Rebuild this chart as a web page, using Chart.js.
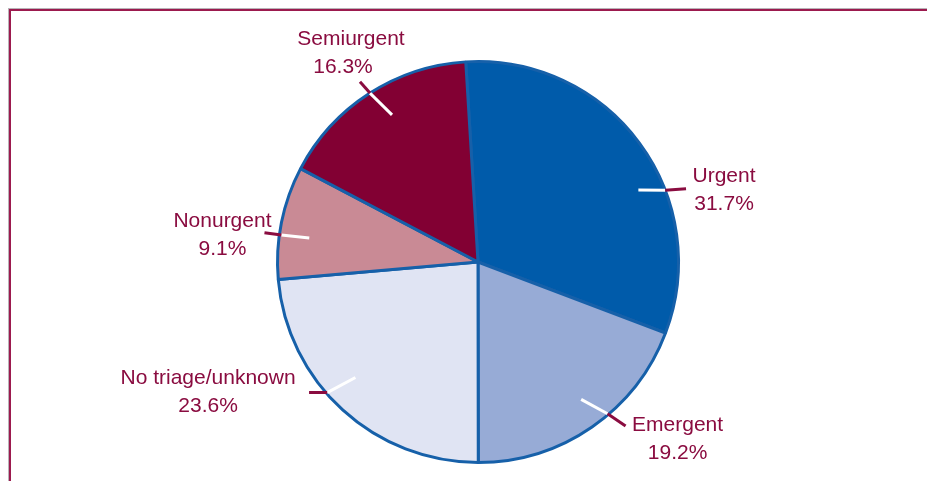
<!DOCTYPE html>
<html>
<head>
<meta charset="utf-8">
<script src="https://cdn.jsdelivr.net/npm/chart.js@4.4.1/dist/chart.umd.min.js"></script>
<style>
  html, body { margin: 0; padding: 0; background: #fff; }
  #wrap { position: relative; width: 927px; height: 481px; overflow: hidden; }
  #frame {
    position: absolute; left: 9px; top: 9px; right: -10px; bottom: -10px;
    border-top: 2px solid #9c1a4e; border-left: 2px solid #9c1a4e;
    box-shadow: -1px -1px 0 #b9b3b8;
  }
  canvas { position: absolute; left: 0; top: 0; }
</style>
</head>
<body>
<div id="wrap">
  <div id="frame"></div>
  <canvas id="pieChart" width="927" height="481"></canvas>
</div>
<script>
var categories = ['Urgent', 'Emergent', 'No triage/unknown', 'Nonurgent', 'Semiurgent'];
var shares = [31.7, 19.2, 23.6, 9.1, 16.3];
var sliceColors = ['#005baa', '#97abd6', '#e0e4f3', '#c98a95', '#820033'];

// leader line layout: angle (deg from top, clockwise) and radius factor for inner/edge/outer points,
// plus text centre offsets from the outer point
var leaders = [
    { inner: [65.8, 0.877], edge: [69.0, 1.0], outer: [70.6, 1.1], text: [38, -13] },
    { inner: [143.1, 0.857], edge: [139.5, 0.995], outer: [138.0, 1.1], text: [52, -1] },
    { inner: [226.7, 0.84], edge: [229.1, 0.995], outer: [232.3, 1.065], text: [-101, -14] },
    { inner: [278.1, 0.85], edge: [277.8, 0.99], outer: [277.8, 1.075], text: [-42, -12] },
    { inner: [329.7, 0.85], edge: [327.4, 1.0], outer: [326.8, 1.075], text: [-9, -42] }
];

var labelColor = '#8a0c40';

var leaderPlugin = {
    id: 'leaders',
    afterDatasetsDraw: function(chart) {
        var arc = chart.getDatasetMeta(0).data[0];
        var cx = arc.x, cy = arc.y, r = arc.outerRadius;
        var ctx = chart.ctx;
        function pt(p) {
            var a = p[0] * Math.PI / 180;
            return [cx + r * p[1] * Math.sin(a), cy - r * p[1] * Math.cos(a)];
        }
        ctx.save();
        ctx.lineWidth = 3;
        ctx.lineCap = 'butt';
        leaders.forEach(function(l, i) {
            var a = pt(l.inner), b = pt(l.edge), c = pt(l.outer);
            ctx.strokeStyle = '#ffffff';
            ctx.beginPath(); ctx.moveTo(a[0], a[1]); ctx.lineTo(b[0], b[1]); ctx.stroke();
            ctx.strokeStyle = labelColor;
            ctx.beginPath(); ctx.moveTo(b[0], b[1]); ctx.lineTo(c[0], c[1]); ctx.stroke();

            var tx = c[0] + l.text[0], ty = c[1] + l.text[1];
            ctx.fillStyle = labelColor;
            ctx.font = '21px "Liberation Sans", Arial, sans-serif';
            ctx.textAlign = 'center';
            ctx.textBaseline = 'middle';
            ctx.fillText(categories[i], tx, ty);
            ctx.fillText(shares[i].toFixed(1) + '%', tx - (i === 4 ? 8 : 0), ty + 28);
        });
        ctx.restore();
    }
};

var ctx = document.getElementById('pieChart').getContext('2d');
var myChart = new Chart(ctx, {
    type: 'pie',
    data: {
        labels: categories,
        datasets: [{
            data: shares,
            backgroundColor: sliceColors,
            borderColor: '#1660a9',
            borderWidth: 3
        }]
    },
    options: {
        responsive: false,
        animation: false,
        rotation: -3.5,
        layout: { padding: { left: 29, right: 0, top: 60, bottom: 17 } },
        plugins: {
            legend: { display: false },
            tooltip: { enabled: false }
        }
    },
    plugins: [leaderPlugin]
});
</script>
</body>
</html>
